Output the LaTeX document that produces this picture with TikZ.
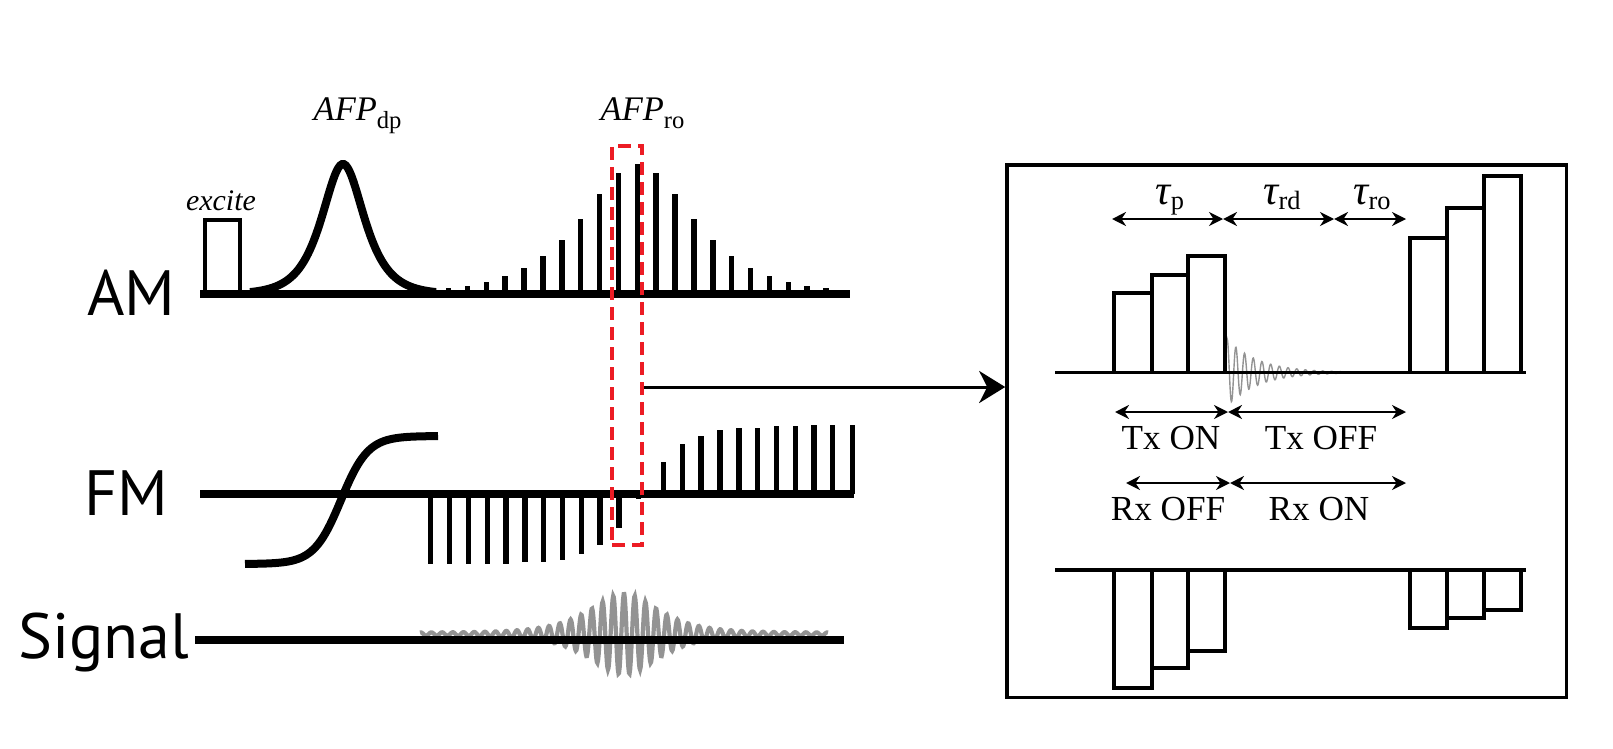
\documentclass[tikz,border=0pt]{standalone}
\usepackage{fontspec}
\setmainfont{Liberation Serif}
\newfontfamily\rowfont{PT Sans}
\usetikzlibrary{arrows.meta}
\definecolor{wavegray}{HTML}{939393}
\definecolor{boxred}{HTML}{EC1C24}

\begin{document}
\begin{tikzpicture}[x=0.01cm, y=-0.01cm,
  heavy/.style={line width=0.08cm},
  spike/.style={line width=0.055cm},
  pulse/.style={line width=0.032cm},
  trace/.style={color=wavegray, line width=0.028cm},
  dimline/.style={line width=0.028cm,
    {Stealth[length=0.14cm,width=0.14cm]}-{Stealth[length=0.14cm,width=0.14cm]}},
  rowlabel/.style={font=\rowfont\fontsize{18.2}{20}\selectfont, anchor=base east, inner sep=0pt},
  caption/.style={font=\fontsize{10}{11}\selectfont, anchor=base, inner sep=0pt}]
  \useasboundingbox (0,0) rectangle (1613,748);

  % Zeilen
  \node[rowlabel] (am) at (176,315) {AM};
  \node[rowlabel] (fm) at (169,515) {FM};
  \node[rowlabel] (sig) at (190,658) {Signal};

  % AM: excite und AFP_dp
  \draw[line width=0.045cm] (205,294) rectangle (240,220);
  \node[caption, font=\itshape\fontsize{8.5}{9}\selectfont] (excite) at (221,210) {excite};
  \draw[heavy] plot[domain=250:436, samples=100] (\x,{294-130/cosh((\x-343)/19)});
  \node[caption, anchor=base west] (afpdp) at (313,120)
    {\fontsize{9.8}{10}\selectfont\itshape AFP\upshape\raisebox{-2.5pt}{\fontsize{7}{7}\selectfont dp}};
  % AM: AFP_ro Pulszug
  \foreach \n in {-10,...,10}
    \draw[spike] ({637.3+18.87*\n},294) -- ({637.3+18.87*\n},{294-130/cosh(0.38*\n)});
  \node[caption, anchor=base west] (afpro) at (600,120)
    {\fontsize{9.8}{10}\selectfont\itshape AFP\upshape\raisebox{-2.5pt}{\fontsize{7}{7}\selectfont ro}};
  \draw[heavy] (200,294) -- (850,294);

  % FM
  \draw[heavy] plot[domain=245:438, samples=80] (\x,{500-64*tanh((\x-341)/27)});
  \foreach \x/\y in {430.7/564, 449.3/564, 468.3/564, 487.3/564, 506/564, 525/562,
      543.3/562, 562.7/560, 581.7/554, 600/545, 619/528, 638.3/499,
      663.3/462, 682.3/444, 701/436, 720/430, 739/428, 757.7/428,
      776.7/426, 795.7/426, 814/425, 832.7/425, 852.3/425}
    \draw[spike] (\x,494) -- (\x,\y);
  \draw[heavy] (200,494) -- (854,494);

  % Signal
  \draw[trace, line width=0.042cm] plot[domain=420:828, samples=700]
    (\x,{634-(39/cosh(0.033*(\x-624))+1.5)*cos((\x-624)/10.7*360)});
  \draw[heavy] (195,640) -- (844,640);

  % Ausschnitt
  \node[draw=boxred, line width=0.04cm, dash pattern=on 0.13cm off 0.07cm,
    minimum width=0.30cm, minimum height=3.99cm, inner sep=0pt] (ro) at (627,345.5) {};
  \node[draw, line width=0.033cm, minimum width=5.59cm, minimum height=5.32cm,
    inner sep=0pt] (panel) at (1286.5,431) {};
  \coordinate (tap) at (642,387);
  \draw[line width=0.03cm, -{Stealth[length=0.26cm,width=0.32cm,inset=0.08cm]}]
    (ro.east |- tap) -- (panel.west |- tap);

  % Detail: AM
  \draw[trace, line width=0.014cm] plot[domain=1225:1360, samples=320]
    (\x,{372.5-36*exp(-0.032*(\x-1225))*sin((\x-1225)/8.7*360)});
  \draw[pulse] (1055,372.5) -- (1526,372.5);
  \foreach \xa/\xb/\h in {1114/1152/293, 1152/1188/275, 1188/1225/256,
      1410/1447/238, 1447/1484/208, 1484/1521/176}
    \draw[pulse] (\xa,372.5) rectangle (\xb,\h);
  \draw[dimline] (1112,219) -- (1223,219);
  \draw[dimline] (1223,219) -- (1334,219);
  \draw[dimline] (1334,219) -- (1406,219);
  \node[caption] (taup) at (1170,204)
    {\fontsize{12}{12}\selectfont\itshape τ\upshape\raisebox{-1.5pt}{\fontsize{7.5}{7.5}\selectfont p}};
  \node[caption] (taurd) at (1282,204)
    {\fontsize{12}{12}\selectfont\itshape τ\upshape\raisebox{-1.5pt}{\fontsize{7.5}{7.5}\selectfont rd}};
  \node[caption] (tauro) at (1372,204)
    {\fontsize{12}{12}\selectfont\itshape τ\upshape\raisebox{-1.5pt}{\fontsize{7.5}{7.5}\selectfont ro}};

  % Tx / Rx
  \draw[dimline] (1115,412) -- (1228,412);
  \draw[dimline] (1228,412) -- (1406,412);
  \node[caption] (txon) at (1171,449) {Tx ON};
  \node[caption] (txoff) at (1321,449) {Tx OFF};
  \draw[dimline] (1126,483) -- (1230,483);
  \draw[dimline] (1230,483) -- (1406,483);
  \node[caption] (rxoff) at (1168,520) {Rx OFF};
  \node[caption] (rxon) at (1319,520) {Rx ON};

  % Detail: FM
  \draw[pulse] (1055,570) -- (1526,570);
  \foreach \xa/\xb/\h in {1114/1152/688, 1152/1188/668, 1188/1225/651,
      1410/1447/628, 1447/1484/618, 1484/1521/610}
    \draw[pulse] (\xa,570) rectangle (\xb,\h);
\end{tikzpicture}
\end{document}
